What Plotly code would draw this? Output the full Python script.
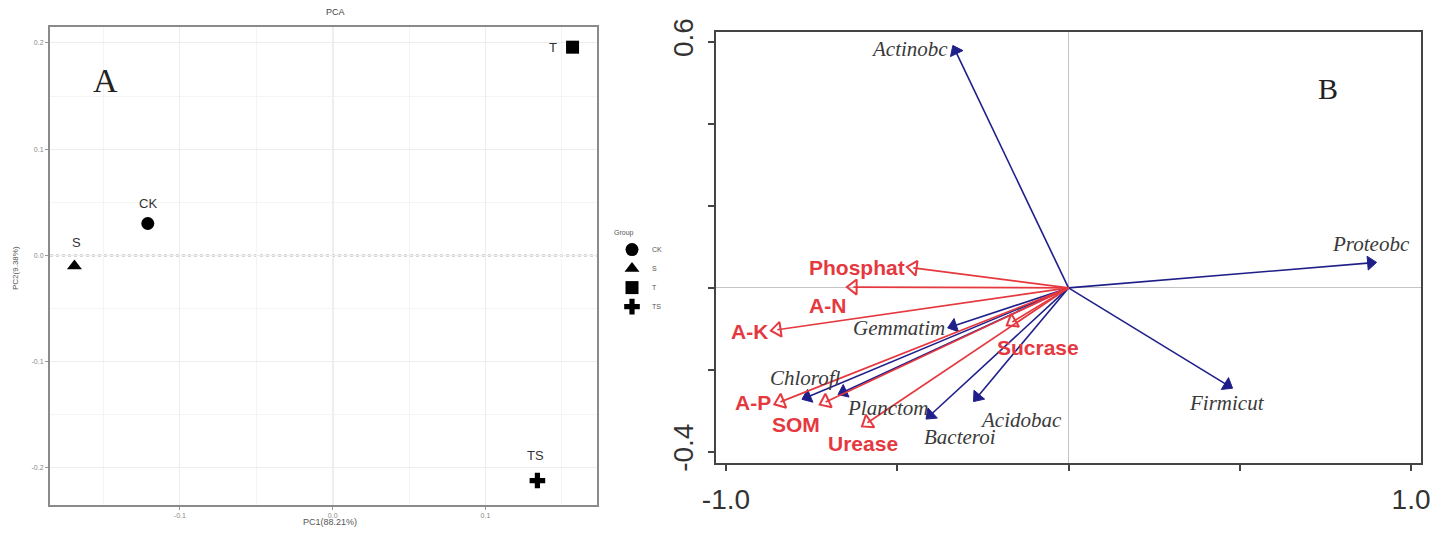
import plotly.graph_objects as go

# ---------------- Panel A data (PCA) ----------------
groups = ["CK", "S", "T", "TS"]
pc1 = [-0.121, -0.169, 0.157, 0.134]
pc2 = [0.030, -0.010, 0.196, -0.212]

# ---------------- Panel B data (RDA biplot) ----------------
species = ["Actinobc", "Proteobc", "Firmicut", "Gemmatim", "Chlorofl", "Planctom", "Bacteroi", "Acidobac"]
species_x = [-0.330, 0.882, 0.464, -0.336, -0.762, -0.657, -0.403, -0.266]
species_y = [0.578, 0.061, -0.237, -0.093, -0.266, -0.254, -0.310, -0.266]

env = ["Phosphat", "A-N", "A-K", "A-P", "SOM", "Urease", "Sucrase"]
env_x = [-0.453, -0.628, -0.850, -0.841, -0.709, -0.587, -0.164]
env_y = [0.049, 0.002, -0.102, -0.278, -0.278, -0.329, -0.083]

# ---------------- styles ----------------
symbols = ["circle", "triangle-up", "square", "cross"]
grp_label_style = [  # (xanchor, xshift, yshift)
    ("center", 0, 20), ("center", 2, 24), ("right", -14, 0), ("center", -2, 25)]
sp_label_style = [
    ("right", -5, 2), ("center", 0, 19), ("center", 0, -18), ("right", -6, -2),
    ("center", -2, 19), ("left", 2, -16), ("left", -8, -22), ("left", 1, -23)]
env_label_style = [
    ("right", -6, 0), ("center", -26, -18), ("right", -7, -2), ("right", -7, -1),
    ("center", -30, -23), ("center", -4, -21), ("center", 26, -26)]

NAVY = "#1f1f8a"
RED = "#e5393f"
W, H = 1434, 536

def px(v, total):
    return v / total

fig = go.Figure()

# Panel A points
for g, x, y, s in zip(groups, pc1, pc2, symbols):
    fig.add_trace(go.Scatter(
        x=[x], y=[y], mode="markers", name=g, xaxis="x", yaxis="y",
        marker=dict(symbol=s, size=13, color="black"), showlegend=True))

# Panel B arrows
for sx, sy in zip(species_x, species_y):
    fig.add_trace(go.Scatter(
        x=[0, sx], y=[0, sy], mode="lines+markers", xaxis="x2", yaxis="y2",
        line=dict(color=NAVY, width=1.6), showlegend=False, hoverinfo="skip",
        marker=dict(symbol="triangle-up", size=[0, 12], angleref="previous", color=NAVY,
                    opacity=1, line=dict(color=NAVY, width=1))))
for ex, ey in zip(env_x, env_y):
    fig.add_trace(go.Scatter(
        x=[0, ex], y=[0, ey], mode="lines+markers", xaxis="x2", yaxis="y2",
        line=dict(color=RED, width=1.7), showlegend=False, hoverinfo="skip",
        marker=dict(symbol="triangle-up-open", size=[0, 13], angleref="previous",
                    color=RED, opacity=1, line=dict(color=RED, width=2))))

ann = []
for g, x, y, (xa, xs, ys) in zip(groups, pc1, pc2, grp_label_style):
    ann.append(dict(x=x, y=y, xref="x", yref="y", text=g, showarrow=False,
                    xanchor=xa, yanchor="middle", xshift=xs, yshift=ys,
                    font=dict(family="Liberation Sans", size=13, color="#333")))
for s, x, y, (xa, xs, ys) in zip(species, species_x, species_y, sp_label_style):
    ann.append(dict(x=x, y=y, xref="x2", yref="y2", text="<i>" + s + "</i>", showarrow=False,
                    xanchor=xa, yanchor="middle", xshift=xs, yshift=ys,
                    font=dict(family="Liberation Serif", size=21, color="#3a3a3a")))
for e, x, y, (xa, xs, ys) in zip(env, env_x, env_y, env_label_style):
    ann.append(dict(x=x, y=y, xref="x2", yref="y2", text="<b>" + e + "</b>", showarrow=False,
                    xanchor=xa, yanchor="middle", xshift=xs, yshift=ys,
                    font=dict(family="Liberation Sans", size=21, color=RED)))

# panel texts
def ptext(x, y, text, size, family="Liberation Sans", color="#444", angle=0):
    return dict(x=px(x, W), y=1 - px(y, H), xref="paper", yref="paper", text=text,
                showarrow=False, xanchor="center", yanchor="middle", textangle=angle,
                font=dict(family=family, size=size, color=color))

ann += [
    ptext(105, 80, "A", 34, "Liberation Serif", "#222"),
    ptext(1328, 88, "B", 30, "Liberation Serif", "#222"),
    ptext(335, 12, "PCA", 9),
    ptext(330, 522, "PC1(88.21%)", 9, color="#555"),
    ptext(15, 268, "PC2(9.38%)", 8, color="#555", angle=-90),
]

shapes = [
    dict(type="line", xref="x", yref="y domain", x0=0, x1=0, y0=0, y1=1,
         line=dict(color="#c4c4c4", width=1.2), layer="below"),
    dict(type="line", xref="x domain", yref="y", x0=0, x1=1, y0=0, y1=0,
         line=dict(color="#b0b0b0", width=2, dash="dot"), layer="below"),
]

axA = dict(showgrid=True, gridcolor="#ededed", gridwidth=1, zeroline=False, automargin=False,
           showline=True, mirror=True, linecolor="#8a8a8a", linewidth=2,
           ticks="outside", ticklen=3, tickcolor="#999",
           tickfont=dict(family="Liberation Sans", size=7, color="#888"),
           minor=dict(dtick=0.05, showgrid=True, gridcolor="#f4f4f4", ticks=""))
axB = dict(showgrid=False, zeroline=True, zerolinecolor="#c4c4c4", zerolinewidth=1, automargin=False,
           showline=True, mirror=True, linecolor="#444", linewidth=2,
           ticks="outside", ticklen=6, tickcolor="#444", tickwidth=1.5,
           tickfont=dict(family="Liberation Sans", size=28, color="#333"))

fig.update_layout(
    width=W, height=H, margin=dict(l=0, r=0, t=0, b=0, autoexpand=False),
    paper_bgcolor="white", plot_bgcolor="white",
    xaxis=dict(axA, domain=[px(50, W), px(597, W)], range=[-0.185, 0.173],
               tickvals=[-0.1, 0, 0.1], ticktext=["-0.1", "0.0", "0.1"], anchor="y",
               ticklabelstandoff=0),
    yaxis=dict(axA, domain=[1 - px(505, H), 1 - px(27, H)], range=[-0.235, 0.215],
               tickvals=[-0.2, -0.1, 0, 0.1, 0.2], ticktext=["-0.2", "-0.1", "0.0", "0.1", "0.2"],
               anchor="x"),
    xaxis2=dict(axB, domain=[px(716, W), px(1421, W)], range=[-1.029, 1.029],
                tickvals=[-1, -0.5, 0, 0.5, 1], ticktext=["-1.0", "", "", "", "1.0"],
                anchor="y2", ticklabelstandoff=4),
    yaxis2=dict(axB, domain=[1 - px(463, H), 1 - px(32, H)], range=[-0.427, 0.624],
                tickvals=[-0.4, -0.2, 0, 0.2, 0.4, 0.6], ticktext=["-0.4", "", "", "", "", "0.6"],
                tickangle=-90, anchor="x2", ticklabelstandoff=4),
    legend=dict(x=px(612, W), y=1 - px(226, H), xanchor="left", yanchor="top",
                title=dict(text="Group", font=dict(family="Liberation Sans", size=7, color="#555")),
                font=dict(family="Liberation Sans", size=7, color="#555"),
                tracegroupgap=0, itemwidth=30, bgcolor="rgba(0,0,0,0)"),
    annotations=ann, shapes=shapes,
)

fig.write_html("out.html", config={"displayModeBar": False},
               post_script="document.body.style.margin='0px';")
